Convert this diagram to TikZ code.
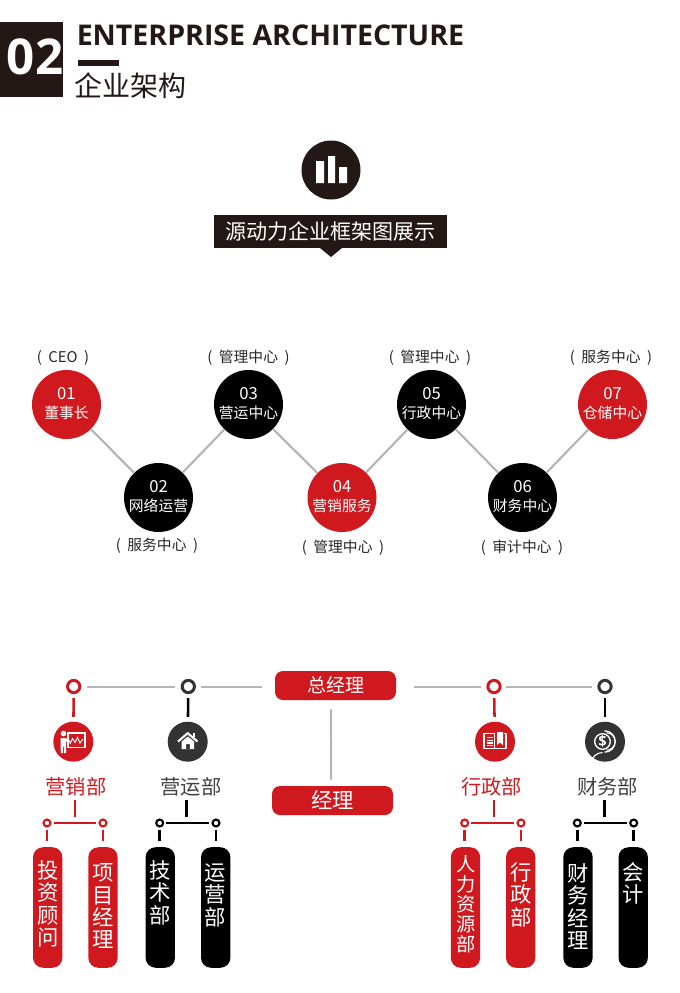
\documentclass[tikz,border=0pt]{standalone}
\usepackage{fontspec}
\setmainfont{Noto Sans CJK SC}
\newfontfamily\titlefont{Open Sans}
\usetikzlibrary{calc}
\definecolor{hdark}{HTML}{231815}
\definecolor{cred}{HTML}{CF191E}
\definecolor{cgray}{HTML}{B5B5B5}
\definecolor{cdark}{HTML}{333333}
\newcommand{\numline}[1]{{\fontsize{12.5}{14.25}\selectfont #1}}
\newcommand{\lastfix}{\rule[-3pt]{0pt}{0pt}}
\tikzset{
  x=0.75pt,y=-0.75pt,
  dotnode/.style={circle,minimum size=51.75pt,inner sep=0pt,text=white,align=center,font=\fontsize{11.1}{14.25}\selectfont},
  reddot/.style={dotnode,fill=cred},
  blackdot/.style={dotnode,fill=black},
  zigzag/.style={draw=cgray,line width=1.6pt},
  role/.style={inner sep=0pt,text=black!85,font=\fontsize{11.1}{13}\selectfont},
  bigring/.style={circle,draw=#1,line width=2.25pt,minimum size=9.2pt,inner sep=0pt,fill=white},
  smallring/.style={circle,draw=#1,line width=1.6pt,minimum size=5.2pt,inner sep=0pt,fill=white},
  topline/.style={draw=cgray,line width=1.5pt},
  stubline/.style={draw=#1,line width=1.9pt},
  iconbg/.style={circle,fill=#1,minimum size=30pt,inner sep=0pt},
  bosspill/.style={fill=cred,rounded corners=6pt,minimum width=90.75pt,minimum height=21.75pt,inner sep=0pt,text=white,font=\fontsize{#1}{17}\selectfont},
  deptlabel/.style={inner sep=0pt,minimum height=19.5pt,text=#1,font=\fontsize{15.2}{17}\selectfont},
  subpill/.style={fill=#1,rounded corners=7.5pt,minimum width=22pt,minimum height=90.4pt,inner sep=0pt},
  vtext/.style={anchor=north,inner sep=0pt,text=white,align=center,text width=22pt,font=\fontsize{16}{16.7}\selectfont},
  vtextsmall/.style={anchor=north,inner sep=0pt,text=white,align=center,text width=22pt,font=\fontsize{14.4}{15}\selectfont},
}
\begin{document}
\begin{tikzpicture}
\useasboundingbox (0,0) rectangle (680,993);
% header
\node[fill=hdark,minimum width=47.25pt,minimum height=56.25pt,inner sep=0pt,anchor=north west] (hbox) at (0,22) {};
\node[text=white,inner sep=0pt,font=\titlefont\bfseries\fontsize{37}{40}\selectfont] (hnum) at (35,57) {02};
\node[anchor=west,text=hdark,inner sep=0pt,font=\titlefont\bfseries\fontsize{21.4}{26}\selectfont] (htitle) at (76.5,35.5) {ENTERPRISE ARCHITECTURE};
\fill[hdark] (78,60) rectangle (119,66);
\node[anchor=west,text=hdark,inner sep=0pt,font=\fontsize{21}{24}\selectfont] (hsub) at (74.5,86) {企业架构};
% chart icon and banner
\node[circle,fill=hdark,minimum size=44.25pt,inner sep=0pt] (chart) at (331,170) {};
\fill[white] (316,161) rectangle (324,183) (328,156) rectangle (335,183) (339,167) rectangle (347,183);
\node[fill=hdark,minimum width=174.75pt,minimum height=24.75pt,inner sep=0pt,text=white,font=\fontsize{15.8}{18}\selectfont] (banner) at (330.5,231.5) {源动力企业框架图展示};
\fill[hdark] (320,248) -- (342,248) -- (331,257) -- cycle;
% zigzag
\node[reddot] (c1) at (66.5,404.5) {\numline{01}\\董事长\lastfix};
\node[blackdot] (c2) at (158.5,497.5) {\numline{02}\\网络运营\lastfix};
\node[blackdot] (c3) at (248.5,404.5) {\numline{03}\\营运中心\lastfix};
\node[reddot] (c4) at (342,497.5) {\numline{04}\\营销服务\lastfix};
\node[blackdot] (c5) at (431.5,404.5) {\numline{05}\\行政中心\lastfix};
\node[blackdot] (c6) at (522.5,497.5) {\numline{06}\\财务中心\lastfix};
\node[reddot] (c7) at (612.5,404.5) {\numline{07}\\仓储中心\lastfix};
\draw[zigzag] (c1) -- (c2);
\draw[zigzag] (c2) -- (c3);
\draw[zigzag] (c3) -- (c4);
\draw[zigzag] (c4) -- (c5);
\draw[zigzag] (c5) -- (c6);
\draw[zigzag] (c6) -- (c7);
\node[role] (r1) at (63,358) {(\hspace{2.5pt} CEO \hspace{2.5pt})};
\node[role] (r2) at (157,546) {(\hspace{2.5pt} 服务中心 \hspace{2.5pt})};
\node[role] (r3) at (248.5,358) {(\hspace{2.5pt} 管理中心 \hspace{2.5pt})};
\node[role] (r4) at (343,548) {(\hspace{2.5pt} 管理中心 \hspace{2.5pt})};
\node[role] (r5) at (430,358) {(\hspace{2.5pt} 管理中心 \hspace{2.5pt})};
\node[role] (r6) at (522,548) {(\hspace{2.5pt} 审计中心 \hspace{2.5pt})};
\node[role] (r7) at (611,358) {(\hspace{2.5pt} 服务中心 \hspace{2.5pt})};
% top of org chart
\node[bosspill=14.25] (boss) at (335.5,685.5) {\raisebox{-0.4pt}{总经理}};
\node[bosspill=16] (mgr) at (332.5,800.5) {经理};
\draw[topline,shorten <=6.75pt,shorten >=4.5pt] ([xshift=-3.4pt]boss.south) -- ([xshift=-1.1pt]mgr.north);
\node[bigring=cred] (t1) at (73.7,686.5) {};
\node[bigring=cdark] (t2) at (188.3,686.5) {};
\node[bigring=cred] (t3) at (494,686.5) {};
\node[bigring=cdark] (t4) at (605,686.5) {};
\draw[topline,shorten <=4.5pt,shorten >=4.1pt] (t1) -- (t2);
\draw[topline,shorten <=4.1pt,shorten >=9.75pt] (t2) -- (t2 -| boss.west);
\draw[topline,shorten <=13.5pt,shorten >=4.1pt] (t3 -| boss.east) -- (t3);
\draw[topline,shorten <=3.4pt,shorten >=4.1pt] (t3) -- (t4);
% icon discs
\node[iconbg=cred] (i1) at (73.3,741.7) {};
\node[iconbg=cdark] (i2) at (187.7,741.7) {};
\node[iconbg=cred] (i3) at (495,741.7) {};
\node[iconbg=cdark] (i4) at (605,741.7) {};
\draw[stubline=cred,shorten <=3pt,shorten >=3.4pt] (t1) -- (i1);
\draw[stubline=black,shorten <=3pt,shorten >=3.4pt] (t2) -- (i2);
\draw[stubline=cred,shorten <=3pt,shorten >=3.4pt] (t3) -- (i3);
\draw[stubline=black,shorten <=3pt,shorten >=3.4pt] (t4) -- (i4);
% presenter icon
\draw[white,line width=0.9pt] (68,733) rectangle (85,747.3);
\draw[white,line width=0.7pt] (70,744) -- (72.5,738.5) -- (75,742.5) -- (77.5,737.5) -- (80,743) -- (83,739);
\fill[white] (63.5,733.5) circle (2.8);
\fill[white] (60.5,738) -- (65.5,738) -- (70.5,741) -- (69.5,742.6) -- (66.2,741.2) -- (66.2,753) -- (64,753) -- (64,746.5) -- (63,746.5) -- (63,753) -- (60.8,753) -- cycle;
% house icon
\draw[white,line width=1.6pt,line join=miter] (178,741.5) -- (187.7,733.2) -- (197.5,741.5);
\fill[white] (192.5,732.5) rectangle (195,737);
\fill[white,even odd rule] (187.8,736.5) -- (194,741.5) -- (194,749) -- (181.7,749) -- (181.7,741.5) -- cycle (186,744.2) rectangle (189.8,749);
% book icon
\draw[white,line width=0.9pt,line join=round] (494.8,733.5) -- (484,733.5) -- (484,748.7) -- (506,748.7) -- (506,733.5) -- (503.5,733.5);
\draw[white,line width=0.9pt] (494.8,733.5) -- (494.8,748.7);
\fill[white] (497,732) -- (503,732) -- (503,745) -- (500,742.5) -- (497,745) -- cycle;
\foreach \ly in {737.5,740.2,742.9,745.6}{\draw[white,line width=0.9pt] (486.5,\ly) -- (492.5,\ly);}
% coin icon
\draw[white,line width=1pt] (602.5,741.5) circle (7.8);
\draw[white,line width=0.8pt] (602.5,752.5) arc (-90:-230:11);
\draw[white,line width=1pt] (604.5,752.2) arc (90:-90:10.7);
\draw[white,line width=0.8pt] (606.5,750.2) arc (90:-90:8.7);
\node[text=white,inner sep=0pt,font=\titlefont\bfseries\fontsize{11}{12}\selectfont] (coin) at (602.5,741.5) {\$};
% department labels
\node[deptlabel=cred] (d1) at (76,787) {营销部};
\node[deptlabel=black!75] (d2) at (191,787) {营运部};
\node[deptlabel=cred] (d3) at (491.7,787) {行政部};
\node[deptlabel=black!75] (d4) at (607.5,787) {财务部};
% junctions
\coordinate (j1) at (75,823);
\coordinate (j2) at (186.7,823);
\coordinate (j3) at (494,823);
\coordinate (j4) at (604.7,823);
\draw[stubline=cred,shorten >=4.5pt] (j1 |- d1.south) -- (j1);
\draw[stubline=black,shorten >=4.5pt] (j2 |- d2.south) -- (j2);
\draw[stubline=cred,shorten >=4.5pt] (j3 |- d3.south) -- (j3);
\draw[stubline=black,shorten >=4.5pt] (j4 |- d4.south) -- (j4);
% small rings
\node[smallring=cred] (s1) at (47,823) {};
\node[smallring=cred] (s2) at (103,823) {};
\node[smallring=black] (s3) at (159.7,823) {};
\node[smallring=black] (s4) at (216,823) {};
\node[smallring=cred] (s5) at (464.7,823) {};
\node[smallring=cred] (s6) at (521,823) {};
\node[smallring=black] (s7) at (577.3,823) {};
\node[smallring=black] (s8) at (633.7,823) {};
\draw[stubline=cred,shorten <=1.5pt,shorten >=1.5pt] (s1) -- (s2);
\draw[stubline=black,shorten <=1.5pt,shorten >=1.5pt] (s3) -- (s4);
\draw[stubline=cred,shorten <=1.5pt,shorten >=1.5pt] (s5) -- (s6);
\draw[stubline=black,shorten <=1.5pt,shorten >=1.5pt] (s7) -- (s8);
% sub pills
\node[subpill=cred] (p1) at (47.7,907.5) {};
\node[subpill=cred] (p2) at (103,907.5) {};
\node[subpill=black] (p3) at (160.3,907.5) {};
\node[subpill=black] (p4) at (215.7,907.5) {};
\node[subpill=cred] (p5) at (465.5,907.5) {};
\node[subpill=cred] (p6) at (520.7,907.5) {};
\node[subpill=black] (p7) at (578,907.5) {};
\node[subpill=black] (p8) at (633.2,907.5) {};
\draw[stubline=cred,shorten <=1.5pt,shorten >=4.5pt] (s1.south) -- (s1.south |- p1.north);
\draw[stubline=cred,shorten <=1.5pt,shorten >=4.5pt] (s2.south) -- (s2.south |- p2.north);
\draw[stubline=black,shorten <=1.5pt,shorten >=4.5pt] (s3.south) -- (s3.south |- p3.north);
\draw[stubline=black,shorten <=1.5pt,shorten >=4.5pt] (s4.south) -- (s4.south |- p4.north);
\draw[stubline=cred,shorten <=1.5pt,shorten >=4.5pt] (s5.south) -- (s5.south |- p5.north);
\draw[stubline=cred,shorten <=1.5pt,shorten >=4.5pt] (s6.south) -- (s6.south |- p6.north);
\draw[stubline=black,shorten <=1.5pt,shorten >=4.5pt] (s7.south) -- (s7.south |- p7.north);
\draw[stubline=black,shorten <=1.5pt,shorten >=4.5pt] (s8.south) -- (s8.south |- p8.north);
% vertical texts
\node[vtext] (v1) at (47.7,860.5) {投\\资\\顾\\问};
\node[vtext] (v2) at (103,863.5) {项\\目\\经\\理};
\node[vtext] (v3) at (160,860.5) {技\\术\\部};
\node[vtext] (v4) at (215.5,863.5) {运\\营\\部};
\node[vtextsmall] (v5) at (465.8,855.5) {人\\力\\资\\源\\部};
\node[vtext] (v6) at (520.7,862.5) {行\\政\\部};
\node[vtext] (v7) at (578,863.5) {财\\务\\经\\理};
\node[vtext] (v8) at (633,862.5) {会\\计};
\end{tikzpicture}
\end{document}
